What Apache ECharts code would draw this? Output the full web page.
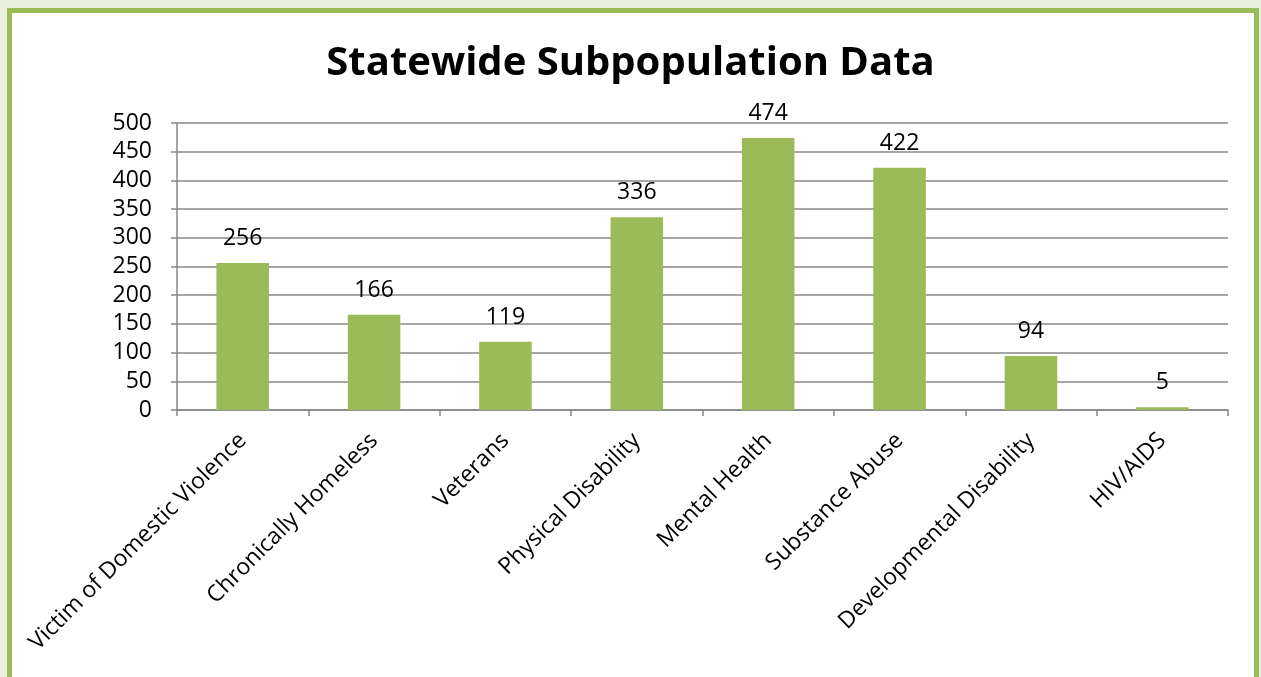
<!DOCTYPE html>
<html>
<head>
<meta charset="utf-8">
<script src="https://cdn.jsdelivr.net/npm/echarts@6/dist/echarts.min.js"></script>
<style>
  html, body { margin: 0; padding: 0; width: 1261px; height: 677px; overflow: hidden; background: #ebf0de; }
  #frame { position: absolute; left: 7px; top: 8px; width: 1242px; height: 700px; border: 5px solid #9bbb59; background: #fff; }
  #chart { position: absolute; left: 0; top: 0; width: 1261px; height: 677px; }
</style>
</head>
<body>
<div id="frame"></div>
<div id="chart"></div>
<script>
var categories = ['Victim of Domestic Violence', 'Chronically Homeless', 'Veterans', 'Physical Disability',
                  'Mental Health', 'Substance Abuse', 'Developmental Disability', 'HIV/AIDS'];
var counts = [256, 166, 119, 336, 474, 422, 94, 5];
var yTicks = { min: 0, max: 500, interval: 50 };

var font = '"Open Sans", sans-serif';
var chart = echarts.init(document.getElementById('chart'));
var option = {
    animation: false,
    title: {
        text: 'Statewide Subpopulation Data',
        left: 'center',
        top: 39,
        textStyle: { fontFamily: font, fontSize: 40, fontWeight: 'bold', color: '#000' }
    },
    grid: { left: 177, right: 33, top: 123, bottom: 267 },
    xAxis: {
        type: 'category',
        data: categories,
        axisLine: { lineStyle: { color: '#888', width: 1.5 } },
        axisTick: { show: true, length: 6, alignWithLabel: false, lineStyle: { color: '#888', width: 1.5 } },
        axisLabel: { rotate: 45, interval: 0, margin: 27, fontFamily: font, fontSize: 23, color: '#000' }
    },
    yAxis: {
        type: 'value',
        min: yTicks.min,
        max: yTicks.max,
        interval: yTicks.interval,
        axisLine: { show: true, lineStyle: { color: '#888', width: 1.5 } },
        axisTick: { show: true, length: 6, lineStyle: { color: '#888', width: 1.5 } },
        axisLabel: { margin: 25, fontFamily: font, fontSize: 23, color: '#000' },
        splitLine: { lineStyle: { color: '#888', width: 1.5 } }
    },
    series: [{
        type: 'bar',
        data: counts,
        barWidth: '40%',
        itemStyle: { color: '#9bbb59' },
        label: { show: true, position: 'top', distance: 13, fontFamily: font, fontSize: 23, color: '#000' }
    }]
};
chart.setOption(option);
</script>
</body>
</html>
